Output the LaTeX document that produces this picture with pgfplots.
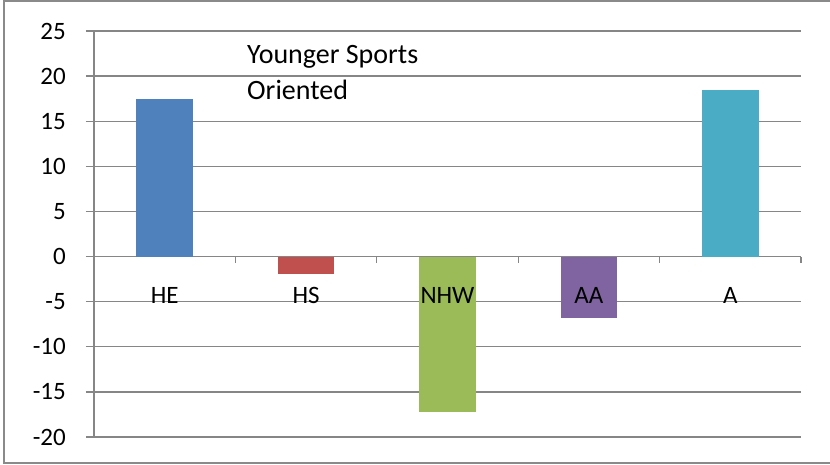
\documentclass[border=0pt]{standalone}
\usepackage{fontspec}
\setmainfont{Carlito}
\usepackage{pgfplots}
\pgfplotsset{compat=1.18}
\definecolor{gridgray}{HTML}{868686}
\definecolor{framegray}{HTML}{8A8A8A}
\definecolor{cHE}{HTML}{4F81BD}
\definecolor{cHS}{HTML}{C0504D}
\definecolor{cNHW}{HTML}{9BBB59}
\definecolor{cAA}{HTML}{8064A2}
\definecolor{cA}{HTML}{4BACC6}
\pgfplotsset{
  common/.style={
    at={(0pt,0pt)}, anchor=south west,
    scale only axis, width=707pt, height=406pt,
    xmin=-0.5, xmax=4.5, ymin=-20, ymax=25,
    /pgf/number format/assume math mode=true,
    ticklabel style={font=\fontsize{25}{28}\selectfont, text=black},
    clip=false,
  }
}
\begin{document}
\begin{tikzpicture}
\begin{axis}[
  common,
  axis y line*=left, axis x line*=middle,
  hide obscured x ticks=false, hide obscured y ticks=false,
  ytick={-20,-15,...,25},
  xtick={0,1,2,3,4}, xticklabels={},
  minor xtick={0.5,1.5,2.5,3.5,4.5},
  ymajorgrids,
  grid style={draw=gridgray, line width=1.3pt},
  axis line style={draw=gridgray, line width=1.3pt},
  tick style={draw=gridgray, line width=1.3pt},
  major x tick style={draw=none},
  tick align=outside,
  major tick length=8pt, minor tick length=6pt,
  yticklabel style={anchor=east, inner sep=0pt, xshift=-20pt},
  ybar,
]
\addplot[fill=cHE, draw=none, bar width=0.4, bar shift=0pt] coordinates {(0,17.5)};
\addplot[fill=cHS, draw=none, bar width=0.4, bar shift=0pt] coordinates {(1,-1.9)};
\addplot[fill=cNHW, draw=none, bar width=0.4, bar shift=0pt] coordinates {(2,-17.25)};
\addplot[fill=cAA, draw=none, bar width=0.4, bar shift=0pt] coordinates {(3,-6.85)};
\addplot[fill=cA, draw=none, bar width=0.4, bar shift=0pt] coordinates {(4,18.5)};
\node[anchor=north west, align=left, inner sep=0pt, font=\fontsize{28}{36}\selectfont] at (axis cs:0.582,23.44) {Younger Sports\\Oriented};
\end{axis}
% overlay axis carrying only the category labels, so they sit above the bars
\begin{axis}[
  common,
  axis y line=none, axis x line*=middle,
  hide obscured x ticks=false,
  axis line style={draw=none},
  ytick=\empty,
  xtick={0,1,2,3,4}, xticklabels={HE,HS,NHW,AA,A},
  major x tick style={draw=none},
  xticklabel style={anchor=north, inner sep=0pt, yshift=-31pt},
]
\end{axis}
\draw[draw=framegray, line width=2pt] (-90pt,-26pt) rectangle (745pt,436pt);
\pgfresetboundingbox
\useasboundingbox (-94pt,-28pt) rectangle (736pt,437pt);
\end{tikzpicture}
\end{document}
